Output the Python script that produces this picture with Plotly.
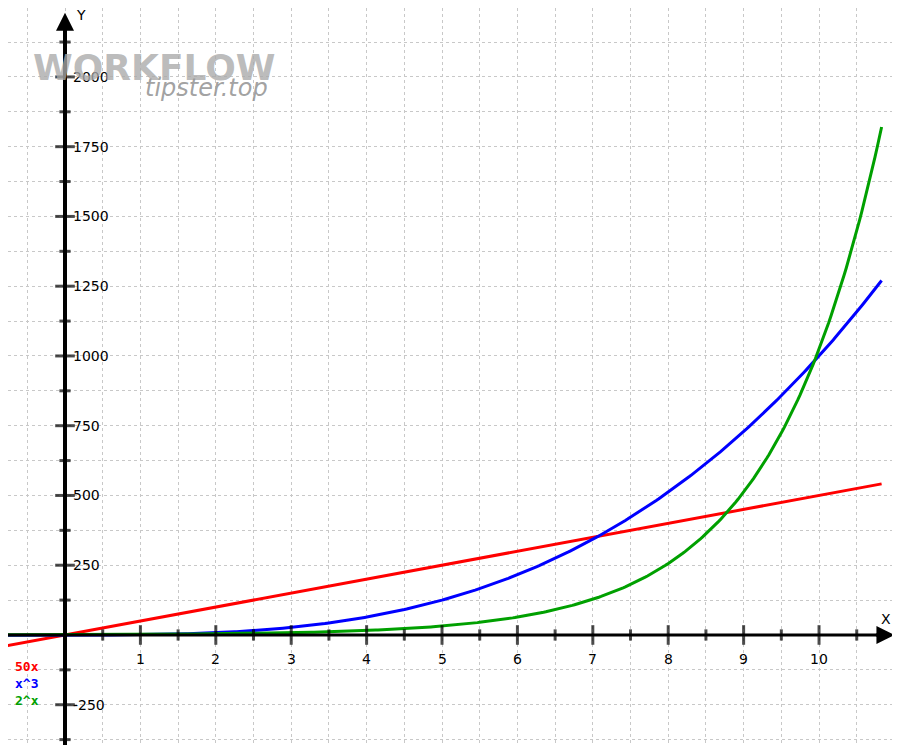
import numpy as np
import plotly.graph_objects as go

x_vals = np.linspace(-0.86, 10.83, 400)
series_names = ["50x", "x^3", "2^x"]
series_colors = ["#ff0000", "#0000ff", "#00a000"]
series_y = [50 * x_vals, x_vals ** 3, 2.0 ** x_vals]
x_ticks = [1, 2, 3, 4, 5, 6, 7, 8, 9, 10]
y_ticks = [-250, 250, 500, 750, 1000, 1250, 1500, 1750, 2000]

XMIN, XMAX = -0.756, 11.18
YMIN, YMAX = -423, 2247

fig = go.Figure()
for name, col, y in zip(series_names, series_colors, series_y):
    fig.add_trace(go.Scatter(x=x_vals, y=y, mode="lines", name=name,
                             line=dict(color=col, width=3)))

# axes
fig.add_shape(type="line", x0=XMIN, x1=10.95, y0=0, y1=0, line=dict(color="black", width=3))
fig.add_shape(type="line", x0=0, x1=0, y0=YMIN, y1=2200, line=dict(color="black", width=4))
fig.add_annotation(x=11.0, y=0, ax=-20, ay=0, showarrow=True, arrowhead=2, arrowsize=1.2,
                   arrowwidth=3, arrowcolor="black", text="")
fig.add_annotation(x=0, y=2230, ax=0, ay=25, showarrow=True, arrowhead=2, arrowsize=1.2,
                   arrowwidth=3, arrowcolor="black", text="")
fig.add_annotation(x=10.97, y=0, text="X", showarrow=False, yshift=16, xshift=-6,
                   font=dict(size=14, color="black"))
fig.add_annotation(x=0, y=2230, text="Y", showarrow=False, xshift=16, yshift=-2,
                   font=dict(size=14, color="black"))

# ticks
minor_x = [v / 2 for v in range(1, 22)]
fig.add_trace(go.Scatter(x=minor_x, y=[0] * len(minor_x), mode="markers", showlegend=False,
                         hoverinfo="skip",
                         marker=dict(symbol="line-ns", size=[14 if v in x_ticks else 8 for v in minor_x],
                                     line=dict(color="black", width=3))))
minor_y = [v * 125 for v in range(-3, 18) if v != 0]
fig.add_trace(go.Scatter(x=[0] * len(minor_y), y=minor_y, mode="markers", showlegend=False,
                         hoverinfo="skip",
                         marker=dict(symbol="line-ew", size=[14 if v in y_ticks else 8 for v in minor_y],
                                     line=dict(color="black", width=3))))
for t in x_ticks:
    fig.add_annotation(x=t, y=0, text=str(t), showarrow=False, yshift=-24,
                       font=dict(size=14, color="black"))
for t in y_ticks:
    fig.add_annotation(x=0, y=t, text=str(t), showarrow=False, xanchor="left", xshift=6,
                       font=dict(size=14, color="black"))

# legend
for i, (name, col) in enumerate(zip(series_names, series_colors)):
    fig.add_annotation(xref="paper", yref="paper", x=0.006, y=(745 - 668 - 17 * i) / 745,
                       text="<b>" + name + "</b>", showarrow=False, xanchor="left",
                       font=dict(size=13, color=col, family="DejaVu Sans Mono"))

# watermark
fig.add_annotation(xref="paper", yref="paper", x=0.025, y=(745 - 37) / 745, text="<b>WORKFLOW</b>",
                   showarrow=False, xanchor="left", font=dict(size=36, color="rgba(170,170,170,0.8)",
                                                              family="DejaVu Sans"))
fig.add_annotation(xref="paper", yref="paper", x=0.15, y=(745 - 64) / 745, text="<i>tipster.top</i>",
                   showarrow=False, xanchor="left", font=dict(size=24, color="rgba(150,150,150,0.9)",
                                                              family="DejaVu Sans"))

grid = dict(showgrid=True, gridcolor="#c8c8c8", griddash="dot", gridwidth=1,
            zeroline=False, showticklabels=False, ticks="")
fig.update_xaxes(range=[XMIN, XMAX], dtick=0.5, tick0=0, **grid)
fig.update_yaxes(range=[YMIN, YMAX], dtick=125, tick0=0, **grid)
fig.update_layout(width=900, height=745, margin=dict(l=0, r=0, t=0, b=0),
                  plot_bgcolor="white", paper_bgcolor="white", showlegend=False,
                  font=dict(family="DejaVu Sans"))
fig.write_html("out.html")
